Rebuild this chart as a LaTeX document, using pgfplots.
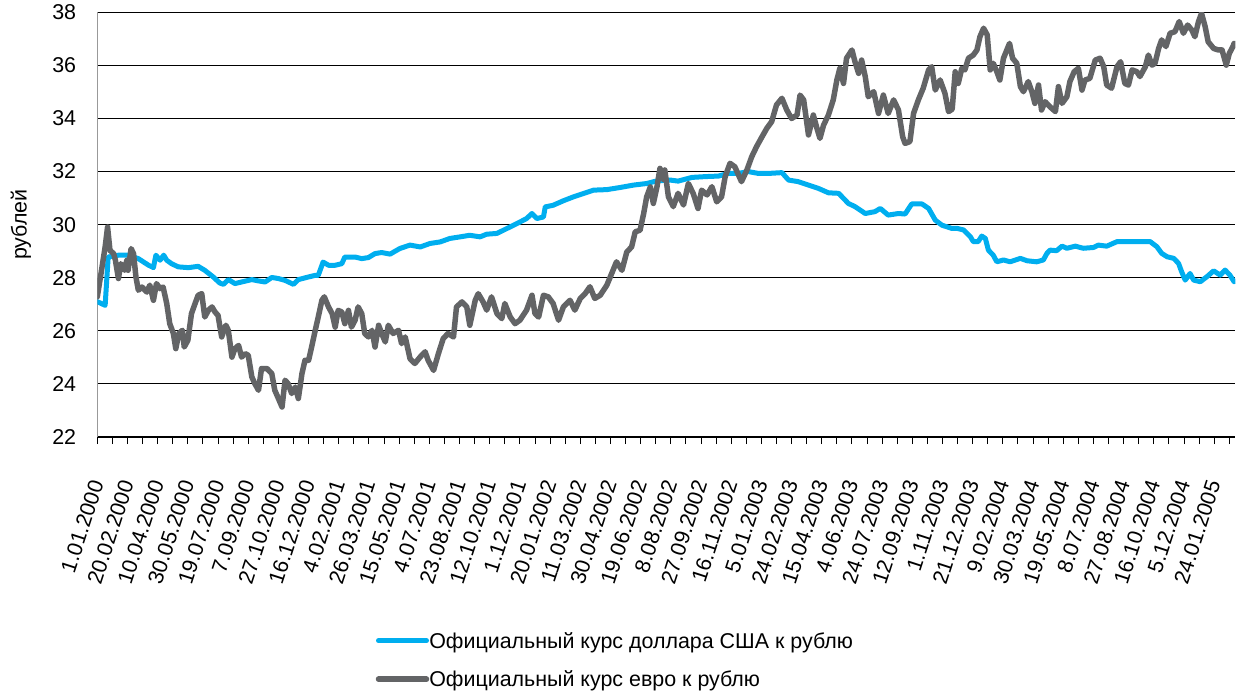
\documentclass[border=0pt]{standalone}
\usepackage{fontspec}
\setmainfont{Liberation Sans}
\usepackage{pgfplots}
\pgfplotsset{compat=1.18}
\definecolor{usd}{RGB}{0,174,239}
\definecolor{eur}{RGB}{99,100,102}
\newcommand{\lblfont}{\fontsize{21.5}{24}\selectfont}
\begin{document}
\begin{tikzpicture}
\path[use as bounding box] (-97.3bp,-256bp) rectangle (1146.7bp,437bp);
\begin{axis}[
  at={(0,0)}, anchor=south west,
  scale only axis, width=1138bp, height=424.7bp,
  xmin=0, xmax=1885, ymin=22, ymax=38,
  axis x line*=bottom, axis y line*=left,
  x axis line style={black, line width=1.2bp, -},
  y axis line style={gray!80, line width=1.2bp, -},
  ytick={22,24,...,38},
  ymajorgrids, major grid style={black, line width=1bp},
  ytick style={draw=none},
  xtick={0,50,...,1850},
  minor xtick={25,75,...,1875},
  xtick align=outside,
  major tick length=7bp, minor tick length=7bp,
  xtick style={black, line width=1bp},
  minor x tick style={black, line width=1bp},
  xticklabels={1.01.2000,20.02.2000,10.04.2000,30.05.2000,19.07.2000,7.09.2000,27.10.2000,16.12.2000,4.02.2001,26.03.2001,15.05.2001,4.07.2001,23.08.2001,12.10.2001,1.12.2001,20.01.2002,11.03.2002,30.04.2002,19.06.2002,8.08.2002,27.09.2002,16.11.2002,5.01.2003,24.02.2003,15.04.2003,4.06.2003,24.07.2003,12.09.2003,1.11.2003,21.12.2003,9.02.2004,30.03.2004,19.05.2004,8.07.2004,27.08.2004,16.10.2004,5.12.2004,24.01.2005},
  xticklabel style={yshift=-36bp, rotate=72, anchor=east, font=\lblfont, inner sep=1bp},
  yticklabel style={font=\lblfont, anchor=east, inner sep=0pt, xshift=-21bp},
  /pgf/number format/assume math mode=true,
  ylabel={рублей},
  ylabel style={at={(axis description cs:-0.0672,0.5)}, anchor=center, font=\lblfont},
  legend style={draw=none, fill=none, at={(axis description cs:0.2445,-0.459)}, anchor=north west,
    inner sep=0pt, row sep=21bp, font=\lblfont,
    nodes={inner sep=0pt},
    /tikz/every even column/.append style={column sep=3bp}},
  legend cell align=left,
  legend image code/.code={\draw[#1, line cap=round] (0bp,0bp) -- (48bp,0bp);},
]
\addplot[usd, line width=5bp, line join=round, line cap=round] table {
0 27.10
13 26.96
18 28.78
35 28.85
51 28.85
68 28.72
85 28.47
93 28.38
97 28.85
104 28.66
110 28.85
115 28.66
123 28.53
134 28.41
151 28.38
167 28.43
178 28.28
192 28.03
203 27.80
209 27.75
217 27.93
228 27.78
239 27.84
256 27.93
267 27.88
278 27.84
289 28.01
300 27.97
311 27.90
325 27.75
333 27.93
350 28.03
361 28.09
366 28.09
374 28.59
383 28.47
394 28.47
405 28.53
410 28.78
427 28.78
438 28.72
449 28.76
460 28.91
471 28.95
485 28.89
501 29.10
518 29.23
535 29.16
551 29.29
568 29.35
584 29.48
601 29.54
617 29.60
634 29.54
645 29.64
662 29.67
678 29.85
695 30.04
711 30.23
720 30.42
728 30.23
739 30.29
742 30.67
755 30.73
772 30.90
789 31.05
805 31.17
822 31.30
844 31.32
866 31.40
888 31.49
910 31.55
927 31.65
949 31.68
962 31.64
985 31.78
1007 31.81
1029 31.83
1045 31.93
1062 31.93
1078 32.00
1095 31.93
1112 31.93
1134 31.96
1145 31.68
1161 31.62
1178 31.49
1194 31.37
1211 31.20
1228 31.18
1244 30.80
1255 30.68
1272 30.42
1288 30.49
1297 30.61
1310 30.36
1327 30.42
1338 30.40
1349 30.78
1366 30.78
1377 30.61
1388 30.17
1399 29.98
1415 29.86
1424 29.86
1435 29.80
1446 29.55
1451 29.36
1459 29.36
1465 29.57
1471 29.48
1476 29.04
1484 28.85
1490 28.60
1501 28.67
1512 28.60
1529 28.73
1540 28.64
1556 28.60
1567 28.67
1573 28.92
1578 29.04
1589 29.02
1598 29.19
1606 29.11
1620 29.19
1633 29.11
1650 29.14
1658 29.23
1672 29.19
1689 29.36
1744 29.36
1755 29.17
1763 28.92
1772 28.79
1783 28.73
1791 28.54
1796 28.23
1802 27.91
1810 28.16
1816 27.91
1827 27.85
1838 28.04
1849 28.26
1860 28.10
1868 28.29
1876 28.10
1883 27.85
};
\addlegendentry{Официальный курс доллара США к рублю}
\addplot[eur, line width=5.5bp, line join=round, line cap=round] table {
0 27.28
7 28.28
13 29.16
17 29.91
21 29.03
27 28.91
30 28.66
35 27.97
39 28.53
45 28.28
49 28.66
51 28.28
56 29.10
60 28.91
64 28.03
68 27.53
74 27.65
82 27.46
87 27.72
93 27.15
98 27.78
104 27.59
109 27.65
115 27.03
120 26.27
126 25.90
130 25.33
135 25.90
141 26.02
144 25.39
150 25.64
156 26.65
162 27.03
167 27.34
173 27.40
178 26.52
184 26.77
190 26.90
195 26.71
200 26.58
206 25.77
213 26.21
217 26.02
223 25.01
228 25.33
234 25.45
239 25.01
245 25.14
250 25.08
256 24.26
261 24.01
267 23.76
272 24.58
281 24.58
289 24.39
294 23.76
300 23.45
306 23.13
311 24.14
316 24.01
322 23.64
328 23.88
333 23.45
339 24.39
344 24.89
350 24.89
355 25.39
361 26.02
366 26.52
372 27.15
376 27.28
383 26.90
389 26.65
394 26.14
399 26.77
405 26.71
410 26.27
416 26.77
421 26.14
427 26.40
432 26.90
438 26.65
443 25.90
449 25.77
455 26.02
460 25.39
466 26.21
471 25.90
477 25.58
482 26.21
490 25.90
499 26.02
504 25.52
510 25.77
518 24.95
526 24.77
535 25.02
543 25.21
548 24.89
557 24.51
565 25.14
573 25.71
581 25.90
590 25.77
595 26.90
604 27.09
612 26.90
617 26.21
626 27.15
631 27.40
639 27.09
645 26.78
653 27.28
662 26.65
670 26.46
675 27.03
684 26.52
692 26.27
700 26.40
711 26.78
720 27.34
725 26.65
731 26.52
739 27.34
747 27.28
755 27.03
764 26.40
772 26.90
783 27.15
791 26.78
800 27.22
808 27.40
816 27.66
824 27.22
833 27.34
844 27.72
852 28.16
860 28.60
869 28.28
877 28.97
885 29.16
891 29.73
899 29.79
905 30.42
910 31.05
916 31.42
921 30.80
927 31.42
932 32.12
938 31.70
940 32.06
946 31.05
954 30.68
962 31.18
971 30.74
979 31.55
987 31.18
995 30.61
1001 31.30
1010 31.12
1018 31.43
1026 30.86
1034 31.05
1040 31.81
1048 32.31
1056 32.18
1067 31.62
1076 32.06
1084 32.56
1092 32.94
1101 33.31
1109 33.63
1117 33.88
1125 34.51
1134 34.76
1142 34.32
1150 34.00
1159 34.13
1164 34.88
1170 34.70
1178 33.38
1186 34.13
1192 33.63
1197 33.25
1203 33.75
1211 34.13
1219 34.70
1225 35.45
1230 35.89
1236 35.32
1241 36.27
1250 36.58
1255 36.14
1261 35.70
1266 36.20
1272 35.58
1277 34.82
1286 35.01
1294 34.19
1302 34.88
1310 34.19
1319 34.70
1327 34.32
1334 33.31
1338 33.06
1346 33.13
1352 34.19
1360 34.70
1368 35.14
1377 35.83
1382 35.95
1388 35.07
1396 35.45
1404 34.95
1410 34.26
1416 34.35
1421 35.76
1426 35.32
1432 35.89
1437 35.83
1443 36.27
1451 36.39
1457 36.58
1462 37.08
1468 37.40
1474 37.15
1479 35.83
1484 36.08
1490 35.76
1495 35.45
1501 36.27
1511 36.83
1516 36.27
1523 36.08
1529 35.20
1534 35.01
1542 35.39
1548 35.01
1553 34.57
1559 35.26
1564 34.32
1570 34.63
1578 34.44
1587 34.26
1592 35.20
1598 34.57
1606 34.82
1611 35.39
1618 35.76
1625 35.89
1631 35.07
1636 35.45
1644 35.51
1653 36.20
1661 36.27
1667 35.95
1672 35.26
1680 35.14
1689 35.95
1695 36.14
1702 35.32
1708 35.26
1714 35.83
1722 35.76
1727 35.58
1736 35.95
1741 36.39
1747 36.01
1752 36.08
1758 36.64
1763 36.96
1770 36.71
1777 37.21
1785 37.27
1792 37.65
1799 37.21
1806 37.52
1813 37.33
1818 37.08
1824 37.65
1829 37.96
1835 37.46
1840 36.89
1849 36.64
1857 36.58
1863 36.58
1870 36.01
1875 36.45
1881 36.71
1883 36.83
};
\addlegendentry{Официальный курс евро к рублю}
\end{axis}
\end{tikzpicture}
\end{document}
